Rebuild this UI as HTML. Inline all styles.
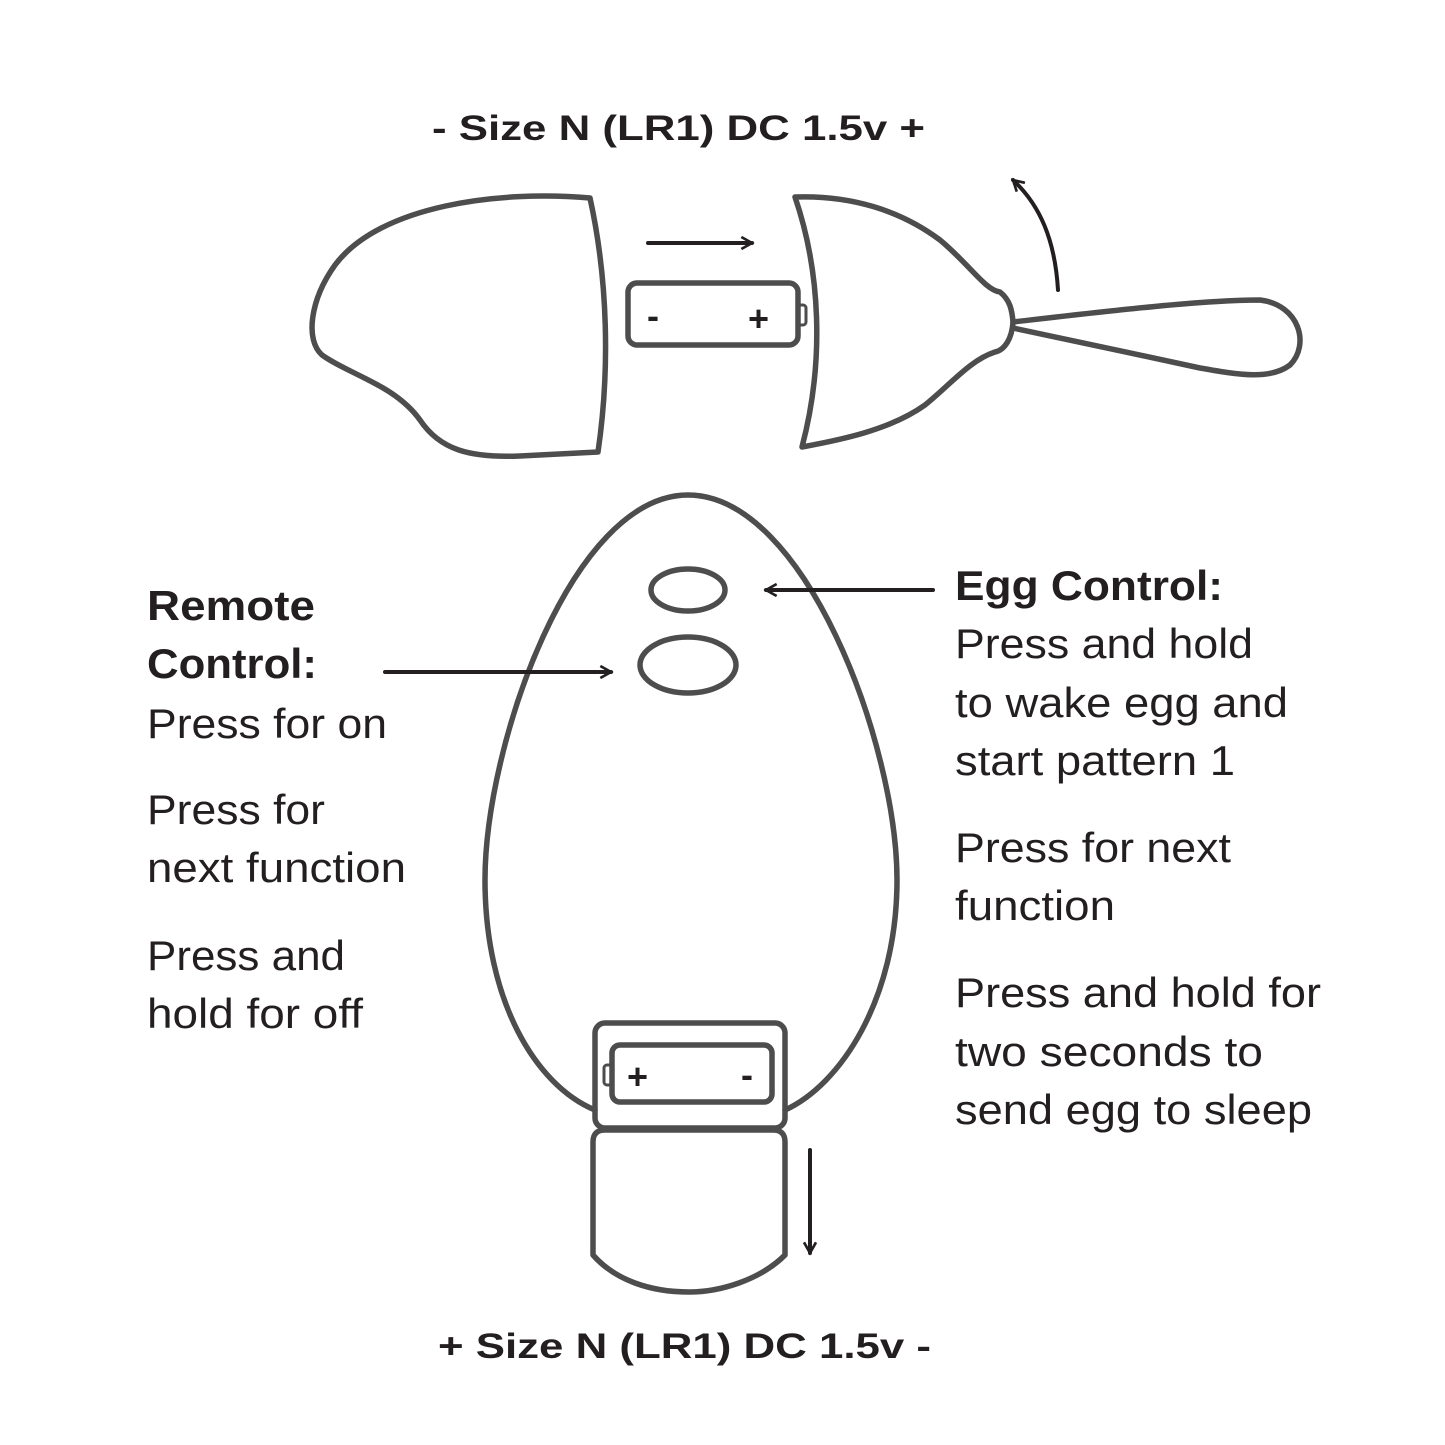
<!DOCTYPE html>
<html><head><meta charset="utf-8"><style>
html,body{margin:0;padding:0;background:#fff}
svg{display:block}
text{font-family:"Liberation Sans",Arial,sans-serif;fill:#231f20}
</style></head><body>
<svg width="1445" height="1445" viewBox="0 0 1445 1445" xmlns="http://www.w3.org/2000/svg">
<defs>
<marker id="ah" viewBox="0 0 12 12" refX="10" refY="6" markerWidth="4" markerHeight="4" orient="auto" markerUnits="strokeWidth"><path d="M2,1.5 L10,6 L2,10.5" fill="none" stroke="#231f20" stroke-width="2"/></marker>
</defs>
<g fill="none" stroke="#4d4d4d" stroke-width="5.5" stroke-linejoin="round" stroke-linecap="round">
<path d="M590,198 C500,190 380,205 335,265 C310,300 305,340 322,355 C350,375 395,385 420,420 C440,450 470,458 520,456 L598,452 C610,370 608,280 590,198 Z"/>
<path d="M795,197 C850,195 900,210 940,240 C970,265 985,290 1000,292 C1010,300 1012,310 1013,322 C1012,338 1005,350 995,352 C970,360 950,385 925,405 C890,430 840,440 802,447 C825,360 820,270 795,197 Z"/>
<path d="M1013,322 C1100,312 1200,300 1260,300 C1300,305 1310,345 1290,365 C1270,380 1240,375 1200,368 C1140,355 1060,338 1013,328"/>
<rect x="628" y="283" width="170" height="62" rx="9"/>
<rect x="798" y="305" width="8" height="20" rx="3" stroke-width="3"/>
<path d="M688,495 C805,495 897,745 897,880 C897,1000 840,1085 785,1110 M595,1110 C535,1085 485,1000 485,880 C485,745 572,495 688,495"/>
<ellipse cx="688" cy="590" rx="37" ry="21"/>
<ellipse cx="688" cy="665" rx="48" ry="28"/>
<rect x="595" y="1023" width="190" height="105" rx="10"/>
<rect x="612" y="1045" width="160" height="57" rx="8"/>
<rect x="604" y="1065" width="8" height="20" rx="3" stroke-width="3"/>
<path d="M605,1130 L773,1130 Q785,1130 785,1142 L785,1255 C760,1280 720,1292 689,1292 C650,1292 615,1280 593,1255 L593,1142 Q593,1130 605,1130 Z"/>
</g>
<g stroke="#231f20" stroke-width="4" fill="none" stroke-linecap="round">
<line x1="648" y1="243" x2="752" y2="243" marker-end="url(#ah)"/>
<path d="M1058,290 C1055,240 1040,205 1013,180" marker-end="url(#ah)"/>
<line x1="933" y1="590" x2="766" y2="590" marker-end="url(#ah)"/>
<line x1="385" y1="672" x2="611" y2="672" marker-end="url(#ah)"/>
<line x1="810" y1="1150" x2="810" y2="1253" marker-end="url(#ah)"/>
</g>
<g font-size="36" font-weight="bold">
<text x="647" y="328">-</text>
<text x="748" y="331">+</text>
<text x="627" y="1089">+</text>
<text x="741" y="1087">-</text>
</g>
<g font-size="35" font-weight="bold">
<text x="432" y="140" textLength="493" lengthAdjust="spacingAndGlyphs">- Size N (LR1) DC 1.5v +</text>
<text x="438" y="1358" textLength="493" lengthAdjust="spacingAndGlyphs">+ Size N (LR1) DC 1.5v -</text>
</g>
<g font-size="42">
<text x="147" y="620" font-weight="bold" textLength="168" lengthAdjust="spacingAndGlyphs">Remote</text>
<text x="147" y="678" font-weight="bold" textLength="170" lengthAdjust="spacingAndGlyphs">Control:</text>
<text x="147" y="738" textLength="240" lengthAdjust="spacingAndGlyphs">Press for on</text>
<text x="147" y="824" textLength="178" lengthAdjust="spacingAndGlyphs">Press for</text>
<text x="147" y="882" textLength="259" lengthAdjust="spacingAndGlyphs">next function</text>
<text x="147" y="970" textLength="198" lengthAdjust="spacingAndGlyphs">Press and</text>
<text x="147" y="1028" textLength="216" lengthAdjust="spacingAndGlyphs">hold for off</text>
<text x="955" y="600" font-weight="bold" textLength="268" lengthAdjust="spacingAndGlyphs">Egg Control:</text>
<text x="955" y="658" textLength="298" lengthAdjust="spacingAndGlyphs">Press and hold</text>
<text x="955" y="717" textLength="333" lengthAdjust="spacingAndGlyphs">to wake egg and</text>
<text x="955" y="775" textLength="280" lengthAdjust="spacingAndGlyphs">start pattern 1</text>
<text x="955" y="862" textLength="276" lengthAdjust="spacingAndGlyphs">Press for next</text>
<text x="955" y="920" textLength="160" lengthAdjust="spacingAndGlyphs">function</text>
<text x="955" y="1007" textLength="366" lengthAdjust="spacingAndGlyphs">Press and hold for</text>
<text x="955" y="1066" textLength="308" lengthAdjust="spacingAndGlyphs">two seconds to</text>
<text x="955" y="1124" textLength="357" lengthAdjust="spacingAndGlyphs">send egg to sleep</text>
</g>
</svg>
</body></html>
